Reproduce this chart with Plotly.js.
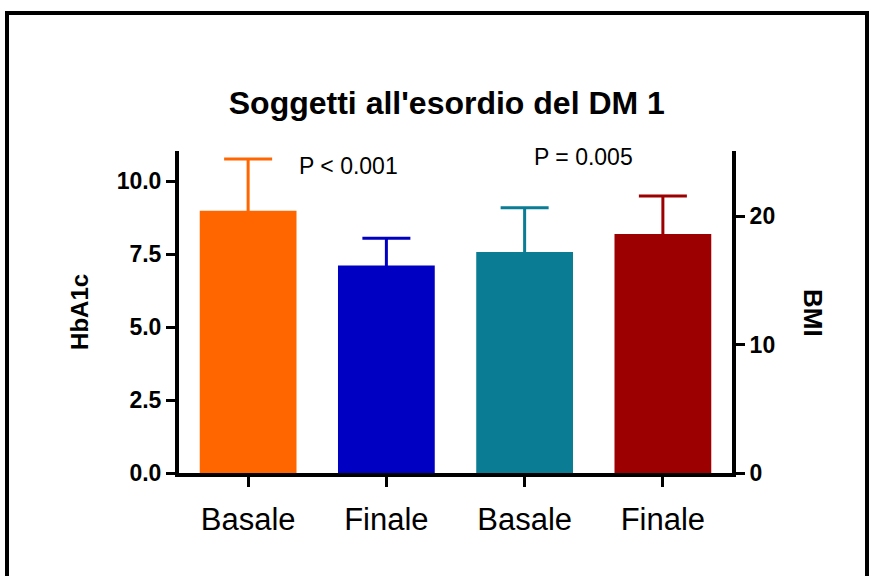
<!DOCTYPE html>
<html>
<head>
<meta charset="utf-8">
<script src="https://cdn.plot.ly/plotly-3.0.1.min.js"></script>
<style>
html,body{margin:0;padding:0;background:#fff;}
#chart{width:871px;height:576px;}
</style>
</head>
<body>
<div id="chart"></div>
<script>
// ---- data ----
var categories = ["Basale", "Finale", "Basale", "Finale"];
var measures = ["HbA1c", "HbA1c", "BMI", "BMI"];
var means = [8.98, 7.11, 17.2, 18.6];
var sdUp = [1.78, 0.93, 3.45, 2.95];
var barColors = ["#FF6600", "#0000C2", "#0A7C94", "#9C0000"];
var hba1cTicks = [0, 2.5, 5, 7.5, 10];
var bmiTicks = [0, 10, 20];
var pLabels = ["P < 0.001", "P = 0.005"];

var FONT = "Liberation Sans, Arial, Helvetica, sans-serif";

function axisOf(i) { return measures[i] === "BMI" ? "y2" : "y"; }

// error bars first (drawn underneath), so the lower half is hidden by the bar
var errTraces = categories.map(function (c, i) {
  return {
    type: "bar",
    x: [i],
    y: [means[i]],
    yaxis: axisOf(i),
    width: 0.7,
    marker: { color: "rgba(0,0,0,0)", line: { width: 0 } },
    error_y: {
      type: "data",
      symmetric: true,
      array: [sdUp[i]],
      color: barColors[i],
      thickness: 3,
      width: 24
    },
    hoverinfo: "none",
    showlegend: false
  };
});

var barTraces = categories.map(function (c, i) {
  return {
    type: "bar",
    x: [i],
    y: [means[i]],
    yaxis: axisOf(i),
    width: 0.7,
    marker: { color: barColors[i], line: { width: 0 } },
    hoverinfo: "none",
    showlegend: false
  };
});

var layout = {
  width: 871,
  height: 576,
  margin: { l: 179, r: 139, t: 151, b: 103 },
  paper_bgcolor: "#ffffff",
  plot_bgcolor: "#ffffff",
  barmode: "overlay",
  font: { family: FONT, color: "#000" },
  title: {
    text: "<b>Soggetti all'esordio del DM 1</b>",
    font: { family: FONT, size: 32, color: "#000" },
    x: 0.513, xref: "container", xanchor: "center",
    y: 1 - 103 / 576, yref: "container", yanchor: "middle"
  },
  xaxis: {
    range: [-0.5, 3.5],
    tickmode: "array",
    tickvals: categories.map(function (c, i) { return i; }),
    ticktext: categories,
    showline: true, linecolor: "#000", linewidth: 4,
    ticks: "outside", ticklen: 10, tickwidth: 3, tickcolor: "#000",
    tickfont: { family: FONT, size: 31, color: "#000" },
    ticklabelstandoff: 6,
    showgrid: false, zeroline: false, fixedrange: true
  },
  yaxis: {
    range: [0, 11.03],
    tickmode: "array",
    tickvals: hba1cTicks,
    ticktext: hba1cTicks.map(function (v) { return v.toFixed(1); }),
    showline: true, linecolor: "#000", linewidth: 4,
    ticks: "outside", ticklen: 9, tickwidth: 3, tickcolor: "#000",
    tickfont: { family: FONT, size: 23, color: "#000", weight: "bold" },
    showgrid: false, zeroline: false, fixedrange: true
  },
  yaxis2: {
    range: [0, 25.06],
    overlaying: "y",
    side: "right",
    tickmode: "array",
    tickvals: bmiTicks,
    ticktext: bmiTicks.map(String),
    showline: true, linecolor: "#000", linewidth: 4,
    ticks: "outside", ticklen: 9, tickwidth: 3, tickcolor: "#000",
    tickfont: { family: FONT, size: 23, color: "#000", weight: "bold" },
    showgrid: false, zeroline: false, fixedrange: true
  },
  annotations: [
    { text: "<b>HbA1c</b>", xref: "paper", yref: "paper", x: -0.181, y: 0.5,
      textangle: -90, showarrow: false, xanchor: "center", yanchor: "middle",
      font: { family: FONT, size: 24, color: "#000" } },
    { text: "<b>BMI</b>", xref: "paper", yref: "paper", x: 1.1465, y: 0.497,
      textangle: 90, showarrow: false, xanchor: "center", yanchor: "middle",
      font: { family: FONT, size: 26, color: "#000" } },
    { text: pLabels[0], xref: "paper", yref: "paper", x: 0.307, y: 0.953,
      showarrow: false, xanchor: "center", yanchor: "middle",
      font: { family: FONT, size: 23, color: "#000" } },
    { text: pLabels[1], xref: "paper", yref: "paper", x: 0.7306, y: 0.981,
      showarrow: false, xanchor: "center", yanchor: "middle",
      font: { family: FONT, size: 23, color: "#000" } }
  ],
  shapes: [
    { type: "rect", xref: "paper", yref: "paper",
      x0: (7 - 179) / 553, x1: (867 - 179) / 553,
      y0: (473 - 620) / 322, y1: (473 - 13) / 322,
      line: { color: "#000", width: 4 }, fillcolor: "rgba(0,0,0,0)", layer: "below" }
  ]
};

Plotly.newPlot("chart", errTraces.concat(barTraces), layout, { staticPlot: true, displayModeBar: false });
</script>
</body>
</html>
